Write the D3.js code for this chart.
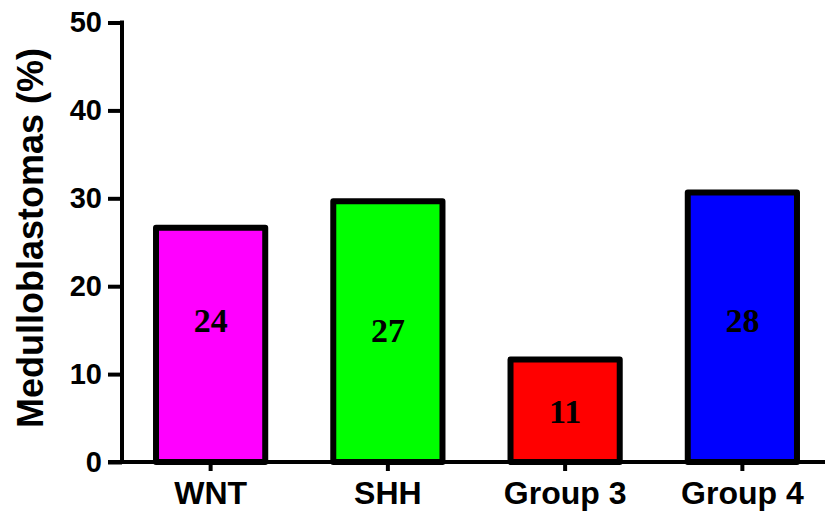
<!DOCTYPE html>
<html>
<head>
<meta charset="utf-8">
<script src="https://cdn.jsdelivr.net/npm/d3@7"></script>
<style>
  body { margin: 0; background: #fff; }
  svg { display: block; }
</style>
</head>
<body>
<div class="container"></div>
<script>
/*
    Chart data
*/
const categories = ["WNT", "SHH", "Group 3", "Group 4"];
const percents = [27, 30, 12, 31];
const counts = ["24", "27", "11", "28"];
// where the count label sits, in % units
const count_at = [16.2, 15, 5.8, 16.2];
const colors = ["#ff00ff", "#00ff00", "#ff0000", "#0000ff"];
const y_ticks = [0, 10, 20, 30, 40, 50];

const svg_dimensions = { width: 825, height: 517 };
const plot = { left: 122, right: 831, top: 22.5, bottom: 462 };

let container = d3.select('.container').append('svg')
                    .attr('width', svg_dimensions.width)
                    .attr('height', svg_dimensions.height);

/* Scales */
let xScale = d3.scaleBand()
                .domain(categories)
                .range([plot.left, plot.right])
                .paddingInner(0.35)
                .paddingOuter(0.175);

let yScale = d3.scaleLinear()
                .domain([0, 50])
                .range([plot.bottom, plot.top]);

/* Bars */
const stroke_w = 6;
container.append('g')
    .selectAll('rect')
    .data(categories)
    .enter().append('rect')
    .attr('x', d => xScale(d) + 3)
    .attr('y', (d, i) => yScale(percents[i]) + stroke_w / 2)
    .attr('width', xScale.bandwidth() - 6)
    .attr('height', (d, i) => yScale(0) - yScale(percents[i]) - stroke_w / 2)
    .attr('fill', (d, i) => colors[i])
    .attr('stroke', '#000')
    .attr('stroke-width', stroke_w)
    .attr('stroke-linejoin', 'round');

/* Count labels */
container.append('g')
    .selectAll('text')
    .data(categories)
    .enter().append('text')
    .attr('x', d => xScale(d) + xScale.bandwidth() / 2)
    .attr('y', (d, i) => yScale(count_at[i]))
    .attr('dy', '0.35em')
    .attr('text-anchor', 'middle')
    .style('font-family', '"Liberation Serif", "Times New Roman", serif')
    .style('font-weight', 'bold')
    .style('font-size', '34px')
    .text((d, i) => counts[i]);

/* Axes */
let yAxis = d3.axisLeft(yScale)
                .tickValues(y_ticks)
                .tickSize(14)
                .tickPadding(6)
                .tickFormat(d3.format('d'));

let xAxis = d3.axisBottom(xScale)
                .tickSize(9)
                .tickPadding(10);

let y_g = container.append('g')
            .attr('transform', `translate(${plot.left},0)`)
            .call(yAxis);

let x_g = container.append('g')
            .attr('transform', `translate(0,${plot.bottom})`)
            .call(xAxis);

[y_g, x_g].forEach(g => {
    g.select('.domain').remove();
    g.selectAll('line').attr('stroke', '#000').attr('stroke-width', 4);
    g.selectAll('text')
        .attr('fill', '#000')
        .style('font-family', '"Liberation Sans", Arial, sans-serif')
        .style('font-weight', 'bold');
});
y_g.selectAll('text').style('font-size', '29px');
x_g.selectAll('text').style('font-size', '32px');

// axis lines
container.append('line')
    .attr('x1', plot.left).attr('x2', plot.left)
    .attr('y1', yScale(50) - 2).attr('y2', yScale(0))
    .attr('stroke', '#000').attr('stroke-width', 4);
container.append('line')
    .attr('x1', plot.left - 14).attr('x2', svg_dimensions.width)
    .attr('y1', yScale(0)).attr('y2', yScale(0))
    .attr('stroke', '#000').attr('stroke-width', 4);

/* Axis title */
container.append('text')
    .attr('transform', 'translate(43,238) rotate(-90)')
    .attr('text-anchor', 'middle')
    .style('font-family', '"Liberation Sans", Arial, sans-serif')
    .style('font-weight', 'bold')
    .style('font-size', '36px')
    .text('Medulloblastomas (%)');
</script>
</body>
</html>
